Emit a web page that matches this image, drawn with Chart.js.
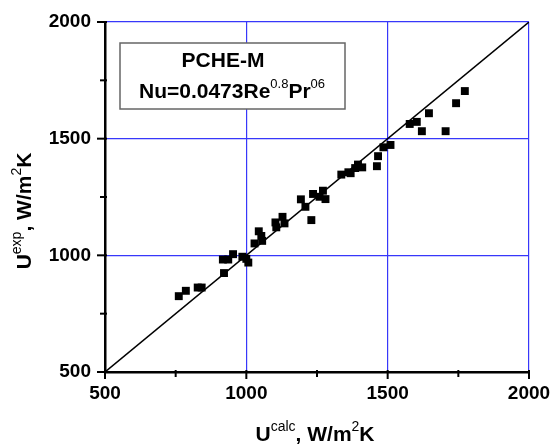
<!DOCTYPE html>
<html lang="en">
<head>
    <meta charset="UTF-8">
    <title>PCHE-M U exp vs U calc</title>
    <script src="https://cdn.jsdelivr.net/npm/chart.js"></script>
    <style>
        body { margin: 0; background: #fff; }
        #wrap { width: 552px; height: 445px; position: relative; }
    </style>
</head>
<body>
    <div id="wrap"><canvas id="grafico"></canvas></div>

    <script>
        // U calc (x) and U exp (y), W/m2K
        const uCalc = [761, 786, 828, 842, 921, 917, 936, 953, 986, 1007, 1000, 1029, 1044, 1053, 1056,
                       1103, 1106, 1128, 1135, 1193, 1209, 1230, 1236, 1259, 1271, 1280, 1336, 1361, 1369,
                       1385, 1395, 1410, 1462, 1466, 1485, 1510, 1578, 1603, 1621, 1646, 1705, 1742, 1773];
        const uExp  = [825, 848, 862, 862, 924, 982, 982, 1005, 994, 969, 985, 1051, 1103, 1083, 1062,
                       1141, 1120, 1165, 1137, 1240, 1208, 1151, 1263, 1251, 1277, 1241, 1346, 1356, 1352,
                       1374, 1389, 1377, 1382, 1425, 1463, 1473, 1563, 1572, 1532, 1609, 1532, 1652, 1704];
        const lineX = [500, 2000];
        const lineY = [500, 2000];
        const axisMin = 500, axisMax = 2000, stepMinor = 250, stepMajor = 500;

        const FONT = 'Arial, "Liberation Sans", sans-serif';
        const BLUE = 'rgb(55,55,250)';

        // text with superscripts: parts = [[text, isSup], ...]
        function drawRich(ctx, parts, x, y, mainFont, supFont, rise) {
            let total = 0;
            parts.forEach(p => { ctx.font = p[1] ? supFont : mainFont; total += ctx.measureText(p[0]).width; });
            let cx = x - total / 2;
            ctx.textAlign = 'left';
            ctx.textBaseline = 'alphabetic';
            parts.forEach(p => {
                ctx.font = p[1] ? supFont : mainFont;
                ctx.fillText(p[0], cx, p[1] ? y - rise : y);
                cx += ctx.measureText(p[0]).width;
            });
        }

        const extras = {
            id: 'extras',
            afterDraw(chart) {
                const ctx = chart.ctx;
                const xs = chart.scales.x, ys = chart.scales.y;
                ctx.save();
                ctx.strokeStyle = '#000';
                ctx.lineWidth = 2;
                // tick marks, outward
                xs.ticks.forEach(t => {
                    const px = xs.getPixelForValue(t.value);
                    const len = t.value % stepMajor === 0 ? 7 : 5;
                    ctx.beginPath(); ctx.moveTo(px, ys.bottom - 2); ctx.lineTo(px, ys.bottom + len); ctx.stroke();
                });
                ys.ticks.forEach(t => {
                    const py = ys.getPixelForValue(t.value);
                    const len = t.value % stepMajor === 0 ? 8 : 5;
                    ctx.beginPath(); ctx.moveTo(xs.left + 2, py); ctx.lineTo(xs.left - len, py); ctx.stroke();
                });

                // legend box
                ctx.fillStyle = '#fff';
                ctx.fillRect(120, 43, 225, 66);
                ctx.strokeStyle = '#666';
                ctx.lineWidth = 1.5;
                ctx.strokeRect(120, 43, 225, 66);
                ctx.fillStyle = '#000';
                ctx.font = 'bold 21px ' + FONT;
                ctx.textAlign = 'center';
                ctx.textBaseline = 'alphabetic';
                ctx.fillText('PCHE-M', 223, 67);
                drawRich(ctx, [['Nu=0.0473Re', false], ['0.8', true], ['Pr', false], ['06', true]],
                    232, 98, 'bold 21px ' + FONT, '13px ' + FONT, 10);

                // axis titles
                drawRich(ctx, [['U', false], ['calc', true], [', W/m', false], ['2', true], ['K', false]],
                    315, 441, 'bold 21px ' + FONT, '14px ' + FONT, 10);
                ctx.translate(31, 211);
                ctx.rotate(-Math.PI / 2);
                drawRich(ctx, [['U', false], ['exp', true], [', W/m', false], ['2', true], ['K', false]],
                    0, 0, 'bold 21px ' + FONT, '14px ' + FONT, 10);
                ctx.restore();
            }
        };

        const gridOpts = {
            color: c => (c.tick && c.tick.value % stepMajor === 0) ? BLUE : 'rgba(0,0,0,0)',
            lineWidth: 1.2,
            drawTicks: false
        };
        const tickOpts = (pad) => ({
            stepSize: stepMinor,
            autoSkip: false,
            padding: pad,
            color: '#000',
            font: { family: FONT, size: 19, weight: 'bold' },
            callback: v => v % stepMajor === 0 ? v : ''
        });

        new Chart(document.getElementById('grafico'), {
            type: 'scatter',
            data: {
                datasets: [
                    {
                        label: 'PCHE-M',
                        data: uCalc.map((x, i) => ({ x, y: uExp[i] })),
                        pointStyle: 'rect',
                        pointRadius: 5.6,
                        pointHoverRadius: 5.6,
                        backgroundColor: '#000',
                        borderWidth: 0
                    },
                    {
                        label: 'y = x',
                        data: lineX.map((x, i) => ({ x, y: lineY[i] })),
                        showLine: true,
                        pointRadius: 0,
                        borderColor: '#000',
                        borderWidth: 1.5
                    }
                ]
            },
            options: {
                responsive: true,
                maintainAspectRatio: false,
                animation: false,
                layout: { padding: { top: 22, right: 23, left: 0, bottom: 0 } },
                plugins: { legend: { display: false }, tooltip: { enabled: false } },
                scales: {
                    x: {
                        type: 'linear', min: axisMin, max: axisMax,
                        grid: gridOpts,
                        border: { color: '#000', width: 2.5 },
                        ticks: tickOpts(10),
                        afterFit: s => { s.height = 73; s.paddingLeft = 0; s.paddingRight = 0; }
                    },
                    y: {
                        type: 'linear', min: axisMin, max: axisMax,
                        grid: gridOpts,
                        border: { color: '#000', width: 2.5 },
                        ticks: tickOpts(14),
                        afterFit: s => { s.width = 105; s.paddingTop = 0; s.paddingBottom = 0; }
                    }
                }
            },
            plugins: [extras]
        });
    </script>
</body>
</html>
